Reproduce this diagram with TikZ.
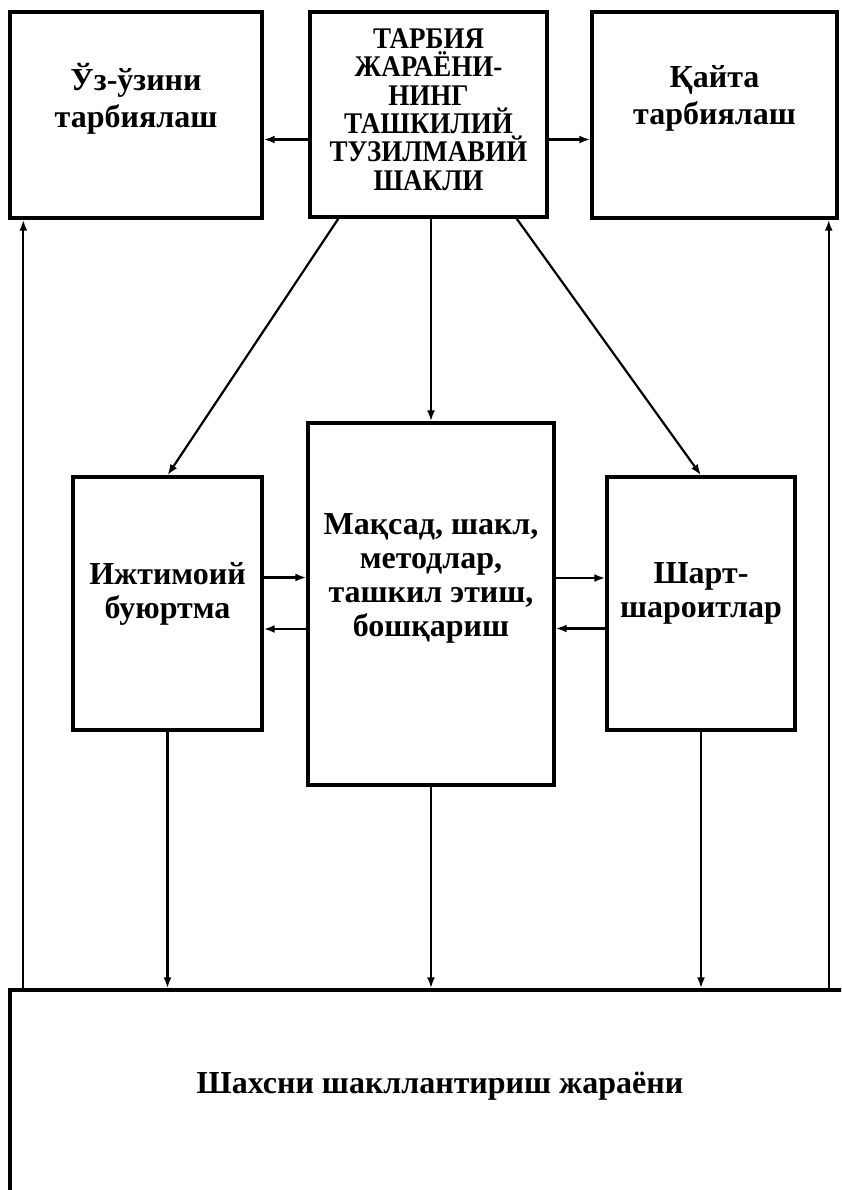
\documentclass[tikz,border=0pt]{standalone}
\usepackage{fontspec}
\setmainfont{Liberation Serif}
\newfontfamily\capsfont[FakeStretch=0.9]{Liberation Serif}
\usetikzlibrary{arrows.meta,calc}

\begin{document}
\begin{tikzpicture}[x=1pt,y=-1pt,
  font=\bfseries\fontsize{32}{34}\selectfont,
  box/.style={draw,line width=3.4pt,rectangle,align=center,inner sep=2pt},
  caps/.style={font=\capsfont\bfseries\fontsize{30}{28.3}\selectfont},
  >={Latex[length=11pt,width=8pt]},line width=2.2pt]
  \useasboundingbox (0,0) rectangle (841,1190);
  \clip (0,0) rectangle (841,1190);
  % top row
  \node[box,minimum width=252,minimum height=206] (selfedu) at (136,115) {Ўз-ўзини\\[3pt] тарбиялаш\\[6pt]};
  \node[box,caps,minimum width=237,minimum height=205] (form) at (428.5,114.5) {ТАРБИЯ\\ ЖАРАЁНИ-\\ НИНГ\\ ТАШКИЛИЙ\\ ТУЗИЛМАВИЙ\\ ШАКЛИ\\[-18pt]};
  \node[box,minimum width=245,minimum height=206] (reedu) at (714.5,115) {Қайта\\[3pt] тарбиялаш\\[6pt]};
  % middle row
  \node[box,minimum width=189,minimum height=253] (order) at (167.5,603.5) {Ижтимоий\\ буюртма\\[-8pt]};
  \node[box,minimum width=246,minimum height=362] (goal) at (431,604) {Мақсад, шакл,\\ методлар,\\ ташкил этиш,\\ бошқариш\\[24pt]};
  \node[box,minimum width=188,minimum height=253] (cond) at (701,603.5) {Шарт-\\ шароитлар\\[-8pt]};
  % bottom
  \node[box,minimum width=860,minimum height=240,text height=22pt,text depth=56pt] (person) at (440,1110) {Шахсни шакллантириш жараёни};

  \draw[->] ([yshift=-25]form.west) -- ([yshift=-25]form.west -| selfedu.east);
  \draw[->] ([yshift=-25]form.east) -- ([yshift=-25]form.east -| reedu.west);
  \draw[->] ([xshift=30]form.south west) -- (order.north);
  \draw[->] (goal.north |- form.south) -- (goal.north);
  \draw[->] ([xshift=-32]form.south east) -- (cond.north);
  \draw[->] ([yshift=26]order.east) -- ([yshift=26]order.east -| goal.west);
  \draw[->] ([yshift=-25]goal.west) -- ([yshift=-25]goal.west -| order.east);
  \draw[->] ([yshift=26]goal.east) -- ([yshift=26]goal.east -| cond.west);
  \draw[->] ([yshift=-25]cond.west) -- ([yshift=-25]cond.west -| goal.east);
  \draw[->] (order.south) -- (order.south |- person.north);
  \draw[->] (goal.south) -- (goal.south |- person.north);
  \draw[->] (cond.south) -- (cond.south |- person.north);
  \draw[->] ([xshift=15]person.north west) -- ([xshift=15]person.north west |- selfedu.south);
  \draw[->] ([xshift=-10]reedu.south east |- person.north) -- ([xshift=-10]reedu.south east);
\end{tikzpicture}
\end{document}
